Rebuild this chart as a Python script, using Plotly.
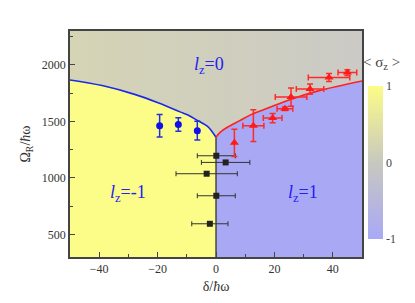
import plotly.graph_objects as go

# ---- data ----
# phase boundary curves
blue_curve_x = [-50, -39, -27.6, -19.6, -12.1, -9.3, -6.4, -2.9, -1.2, 0]
blue_curve_y = [1867, 1817, 1737, 1662, 1582, 1553, 1509, 1456, 1405, 1360]
red_curve_x = [0, 1.5, 4, 8, 12, 18, 25, 35, 50]
red_curve_y = [1360, 1405, 1450, 1505, 1560, 1620, 1690, 1770, 1858]

# blue circles (l_z = -1 side)
blue_x = [-19.3, -12.9, -6.4]
blue_y = [1462, 1473, 1418]
blue_yerr = [100, 60, 83]

# red triangles (l_z = 1 side)
red_x = [6.3, 12.8, 19.4, 23.6, 25.7, 32.2, 38.7, 45.0]
red_y = [1310, 1462, 1529, 1612, 1715, 1786, 1888, 1932]
red_xerr = [0, 3.6, 3.2, 2.7, 5.4, 4.7, 7.1, 3.2]
red_yerr = [120, 140, 40, 15, 80, 45, 35, 25]

# black squares
sq_x = [0.1, 3.3, -3.2, 0.1, -2.1]
sq_y = [1196, 1137, 1037, 842, 594]
sq_xerr = [6.5, 8.3, 10.5, 6.5, 6.2]

# labels
region_labels = ["<i>l</i><sub>z</sub>=0", "<i>l</i><sub>z</sub>=-1", "<i>l</i><sub>z</sub>=1"]
label_x = [-2.5, -30.2, 29.9]
label_y = [1994, 861, 861]

cbar_vals = [-1, 0, 1]
cbar_text = ["-1", "0", "1"]

XMIN, XMAX, YMIN, YMAX = -50, 50, 300, 2300
SERIF = "Liberation Serif"

YELLOW = "#FCFC88"
LAVENDER = "#A8A8F4"

fig = go.Figure()

# gray region (above both curves)
gx = [XMIN] + blue_curve_x + red_curve_x[1:] + [XMAX, XMAX, XMIN]
gy = [YMAX] + blue_curve_y + red_curve_y[1:] + [red_curve_y[-1], YMAX, YMAX]
fig.add_trace(go.Scatter(
    x=gx, y=gy, fill="toself", mode="none", hoverinfo="skip", showlegend=False,
    fillcolor="#CFCEBF",
    fillgradient=dict(type="horizontal",
                      colorscale=[[0, "#D5D4B5"], [1, "#CBCAC6"]]),
))

# yellow region (l_z = -1)
yx = [XMIN] + blue_curve_x + [blue_curve_x[-1]]
yy = [YMIN] + blue_curve_y + [YMIN]
fig.add_trace(go.Scatter(x=yx, y=yy, fill="toself", mode="none",
                         fillcolor=YELLOW, hoverinfo="skip", showlegend=False))

# lavender region (l_z = 1)
bx = [red_curve_x[0]] + red_curve_x + [XMAX]
by = [YMIN] + red_curve_y + [YMIN]
fig.add_trace(go.Scatter(x=bx, y=by, fill="toself", mode="none",
                         fillcolor=LAVENDER, hoverinfo="skip", showlegend=False))

# vertical boundary between l_z=-1 and l_z=1
fig.add_trace(go.Scatter(x=[blue_curve_x[-1], blue_curve_x[-1]],
                         y=[YMIN, blue_curve_y[-1]], mode="lines",
                         line=dict(color="#333333", width=1.3),
                         hoverinfo="skip", showlegend=False))

# boundary curves
fig.add_trace(go.Scatter(x=blue_curve_x, y=blue_curve_y, mode="lines",
                         line=dict(color="#1a2ae6", width=1.6, shape="spline"),
                         showlegend=False))
fig.add_trace(go.Scatter(x=red_curve_x, y=red_curve_y, mode="lines",
                         line=dict(color="#ff2020", width=1.6, shape="spline"),
                         showlegend=False))

# black squares
fig.add_trace(go.Scatter(
    x=sq_x, y=sq_y, mode="markers", showlegend=False,
    marker=dict(symbol="square", size=6, color="#222222"),
    error_x=dict(type="data", array=sq_xerr, color="#333333", thickness=1, width=2.5),
))

# blue circles
fig.add_trace(go.Scatter(
    x=blue_x, y=blue_y, mode="markers", showlegend=False,
    marker=dict(symbol="circle", size=7, color="#1010e8"),
    error_y=dict(type="data", array=blue_yerr, color="#2030e0", thickness=1.5, width=3),
))

# red triangles
fig.add_trace(go.Scatter(
    x=red_x, y=red_y, mode="markers", showlegend=False,
    marker=dict(symbol="triangle-up", size=8, color="#ff1a1a"),
    error_x=dict(type="data", array=red_xerr, color="#ff2a2a", thickness=1.5, width=3),
    error_y=dict(type="data", array=red_yerr, color="#ff2a2a", thickness=1.5, width=3),
))

# colorbar via a dummy trace
fig.add_trace(go.Scatter(
    x=[None, None], y=[None, None], mode="markers", showlegend=False, hoverinfo="skip",
    marker=dict(
        color=[cbar_vals[0], cbar_vals[-1]], cmin=-1, cmax=1,
        colorscale=[[0, "#A8A8F8"], [0.5, "#C8C8BF"], [1, "#FCFC88"]],
        showscale=True,
        colorbar=dict(
            x=1.021, xanchor="left", xpad=0, ypad=0,
            y=0.417, yanchor="middle", len=0.677, lenmode="fraction",
            thickness=15, outlinewidth=0,
            tickvals=cbar_vals, ticktext=cbar_text, ticks="",
            tickfont=dict(family=SERIF, size=12, color="#444444"),
        ),
    ),
))

# colorbar title
fig.add_annotation(xref="paper", yref="paper", x=1.068, y=0.858,
                   xanchor="center", yanchor="middle",
                   text="&lt; σ<sub>z</sub> &gt;", showarrow=False,
                   font=dict(family=SERIF, size=15, color="#444444"))

for t, lx, ly in zip(region_labels, label_x, label_y):
    fig.add_annotation(x=lx, y=ly, text=t, showarrow=False,
                       xanchor="center", yanchor="middle",
                       font=dict(family=SERIF, size=18, color="#2222ee"))

axis_common = dict(
    showline=True, mirror=True, linecolor="#444444", linewidth=1.5,
    ticks="inside", ticklen=5, tickcolor="#444444", tickwidth=1,
    showgrid=False, zeroline=False,
    tickfont=dict(family=SERIF, size=12, color="#333333"),
)

fig.update_xaxes(range=[XMIN, XMAX], tickvals=[-40, -20, 0, 20, 40],
                 minor=dict(ticks="inside", ticklen=3, dtick=10, tick0=0, tickcolor="#444444"),
                 title=dict(text="δ/<i>ħ</i>ω", font=dict(family=SERIF, size=14, color="#333333"),
                            standoff=6),
                 **axis_common)
fig.update_yaxes(range=[YMIN, YMAX], tickvals=[500, 1000, 1500, 2000],
                 minor=dict(ticks="inside", ticklen=3, dtick=250, tick0=0, tickcolor="#444444"),
                 title=dict(text="Ω<sub>R</sub>/<i>ħ</i>ω", font=dict(family=SERIF, size=14, color="#333333"),
                            standoff=8),
                 **axis_common)

fig.update_layout(
    width=415, height=303,
    margin=dict(l=62, r=61, t=23, b=54),
    paper_bgcolor="white", plot_bgcolor="#CFCEBF",
    showlegend=False,
)

fig.write_html("out.html")
